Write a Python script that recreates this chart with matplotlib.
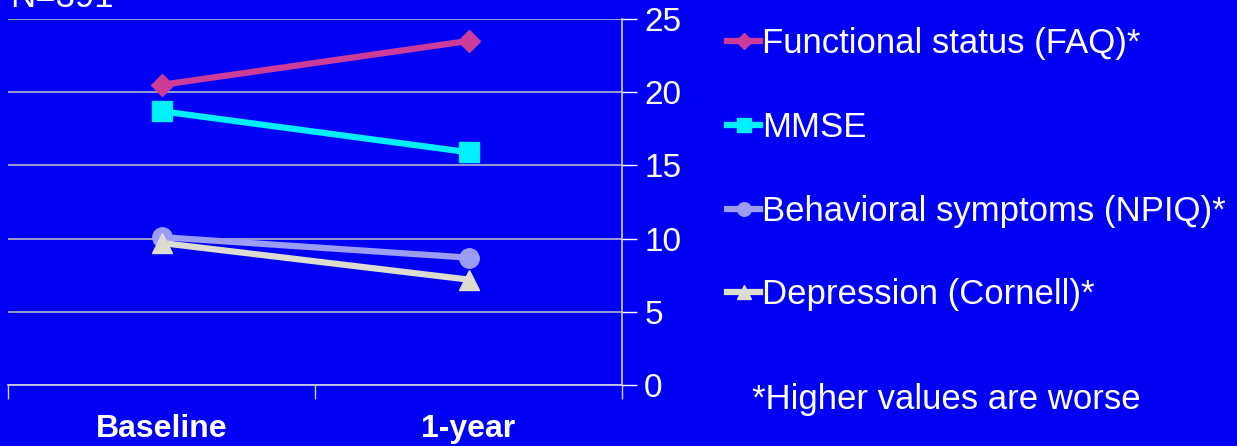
import matplotlib.pyplot as plt
from matplotlib.lines import Line2D

plt.rcParams["font.family"] = ["Liberation Sans", "DejaVu Sans"]

# data
timepoints = ["Baseline", "1-year"]
faq = [20.5, 23.5]
mmse = [18.7, 15.9]
npiq = [10.1, 8.7]
cornell = [9.7, 7.2]

series_labels = ["Functional status (FAQ)*", "MMSE",
                 "Behavioral symptoms (NPIQ)*", "Depression (Cornell)*"]
series_colors = ["#cc3c99", "#00f0ff", "#9a9cf5", "#dcdcd0"]
series_markers = ["D", "s", "o", "^"]
marker_sizes = [11, 14, 14, 14]

bg = "#0000f5"

fig = plt.figure(figsize=(12.37, 4.46), dpi=100, facecolor=bg)
ax = fig.add_axes([8 / 1237, 1 - 385 / 446, (622 - 8) / 1237, (385 - 19) / 446])
ax.set_facecolor(bg)

x = list(range(len(timepoints)))
for vals, lab, col, mk, ms in zip([faq, mmse, npiq, cornell], series_labels,
                                  series_colors, series_markers, marker_sizes):
    ax.plot(x, vals, color=col, lw=4.5, marker=mk, ms=ms, mec=col, mfc=col,
            label=lab, zorder=3)

ax.set_xlim(-0.5, 1.5)
ax.set_ylim(0, 25)

# y axis on the right side
ax.yaxis.tick_right()
ax.set_yticks(range(0, 26, 5))
ax.tick_params(axis="y", colors="white", labelsize=24, length=11, width=1,
               pad=5, direction="out")
ax.grid(axis="y", color="#b4b4c8", lw=1.2, zorder=1)

# category labels and boundary ticks
ax.set_xticks(x)
ax.set_xticklabels(timepoints, fontweight="bold")
ax.set_xticks([-0.5, 0.5, 1.5], minor=True)
ax.tick_params(axis="x", which="major", length=0, colors="white",
               labelsize=23, pad=21)
ax.tick_params(axis="x", which="minor", length=10, width=1, color="#d0d0e0")

for s in ["left", "top"]:
    ax.spines[s].set_visible(False)
for s in ["right", "bottom"]:
    ax.spines[s].set_color("#d0d0e0")
    ax.spines[s].set_linewidth(1.2)

# legend
handles = [Line2D([0], [0], color=c, lw=4.5, marker=m, ms=ms * 0.7, mec=c, mfc=c)
           for c, m, ms in zip(series_colors, series_markers, marker_sizes)]
leg = fig.legend(handles, series_labels, loc="upper left",
                 bbox_to_anchor=(710 / 1237, 1 - 10 / 446), frameon=False,
                 fontsize=25, handlelength=0.95, handletextpad=0.05,
                 labelspacing=1.46, borderpad=0)
for t in leg.get_texts():
    t.set_color("white")

fig.text(752 / 1237, 1 - 400 / 446, "*Higher values are worse", color="white",
         fontsize=25, va="center", ha="left")
fig.text(10 / 1237, 1 - 7 / 446, "N=391", color="white", fontsize=25,
         va="baseline", ha="left")

fig.savefig("out.png", dpi=100, facecolor=bg)
